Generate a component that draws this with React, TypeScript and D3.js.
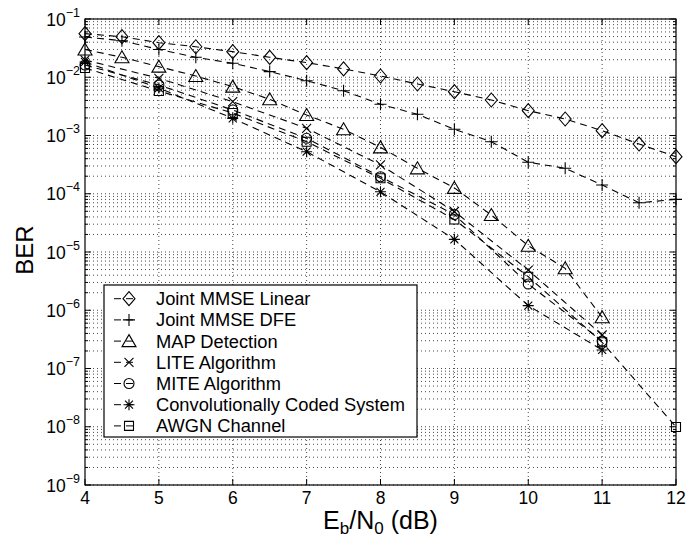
import React from "react";
import * as d3 from "d3";

const W = 699, H = 538;

const ebn0Half = [4, 4.5, 5, 5.5, 6, 6.5, 7, 7.5, 8, 8.5, 9, 9.5, 10, 10.5, 11, 11.5, 12];
const ebn0Int = [4, 5, 6, 7, 8, 9, 10, 11];
const ebn0Int12 = [4, 5, 6, 7, 8, 9, 10, 11, 12];
const ebn0Map = [4, 4.5, 5, 5.5, 6, 6.5, 7, 7.5, 8, 8.5, 9, 9.5, 10, 10.5, 11];

const berLinear = [5.6e-2, 4.97e-2, 3.92e-2, 3.34e-2, 2.75e-2, 2.2e-2, 1.78e-2, 1.39e-2, 1.05e-2, 7.66e-3, 5.65e-3, 4.07e-3, 2.67e-3, 1.92e-3, 1.21e-3, 7.14e-4, 4.33e-4];
const berDfe = [4.9e-2, 4.24e-2, 3.0e-2, 2.2e-2, 1.74e-2, 1.25e-2, 8.73e-3, 5.88e-3, 3.44e-3, 2.31e-3, 1.28e-3, 7.83e-4, 3.47e-4, 2.74e-4, 1.41e-4, 7.0e-5, 8.0e-5];
const berMap = [3.0e-2, 2.2e-2, 1.52e-2, 1.05e-2, 6.9e-3, 4.18e-3, 2.25e-3, 1.28e-3, 6.26e-4, 2.73e-4, 1.26e-4, 4.32e-5, 1.28e-5, 5.25e-6, 7.57e-7];
const berLite = [1.98e-2, 9.6e-3, 3.8e-3, 1.33e-3, 3.12e-4, 4.96e-5, 4.9e-6, 3.76e-7];
const berMite = [1.62e-2, 7.36e-3, 2.74e-3, 8.95e-4, 1.96e-4, 4.4e-5, 2.82e-6, 2.96e-7];
const berConv = [1.83e-2, 6.53e-3, 1.97e-3, 5.27e-4, 1.08e-4, 1.65e-5, 1.2e-6, 2.08e-7];
const berAwgn = [1.44e-2, 5.81e-3, 2.43e-3, 7.83e-4, 1.84e-4, 3.61e-5, 3.77e-6, 2.82e-7, 9.9e-9];

const legendLabels = [
  "Joint MMSE Linear",
  "Joint MMSE DFE",
  "MAP Detection",
  "LITE Algorithm",
  "MITE Algorithm",
  "Convolutionally Coded System",
  "AWGN Channel",
];
const markerTypes = ["diamond", "plus", "triangle", "x", "circle", "star", "square"];

const xTicks = [4, 5, 6, 7, 8, 9, 10, 11, 12];
const yExps = [-9, -8, -7, -6, -5, -4, -3, -2, -1];

const series = [
  { xs: ebn0Half, ys: berLinear },
  { xs: ebn0Half, ys: berDfe },
  { xs: ebn0Map, ys: berMap },
  { xs: ebn0Int, ys: berLite },
  { xs: ebn0Int, ys: berMite },
  { xs: ebn0Int, ys: berConv },
  { xs: ebn0Int12, ys: berAwgn },
];

const FONT = "'Liberation Sans', Arial, Helvetica, sans-serif";

function Marker({ type, cx, cy }: { type: string; cx: number; cy: number }) {
  const s = { fill: "none", stroke: "#000", strokeWidth: 1.1 };
  const t = `translate(${cx},${cy})`;
  switch (type) {
    case "diamond":
      return <path transform={t} d="M0,-7L6,0L0,7L-6,0Z" {...s} />;
    case "plus":
      return <path transform={t} d="M-6,0H6M0,-6V6" {...s} />;
    case "triangle":
      return <path transform={t} d="M0,-6.5L7,5.5L-7,5.5Z" {...s} />;
    case "x":
      return <path transform={t} d="M-4.5,-4.5L4.5,4.5M-4.5,4.5L4.5,-4.5" {...s} />;
    case "circle":
      return <circle cx={cx} cy={cy} r={5} {...s} />;
    case "star":
      return <path transform={t} d="M-5.5,0H5.5M0,-5.5V5.5M-4,-4L4,4M-4,4L4,-4" {...s} />;
    case "square":
      return <path transform={t} d="M-4.5,-4.5H4.5V4.5H-4.5Z" {...s} />;
  }
  return null;
}

export default function App() {
  const x = d3.scaleLinear().domain([4, 12]).range([85, 676]);
  const y = d3.scaleLog().domain([1e-9, 1e-1]).range([485, 19]);
  const line = d3.line<[number, number]>().x((d) => x(d[0])).y((d) => y(d[1]));

  const hGrid: number[] = [];
  for (let e = -9; e <= -2; e++) for (let k = 1; k <= 9; k++) hGrid.push(k * Math.pow(10, e));
  hGrid.push(1e-1);

  const x0 = x(4), x1 = x(12), y0 = y(1e-9), y1 = y(1e-1);
  const legX = 104, legY = 285, legW = 313, legH = 152;
  const rowY = (i: number) => 298.7 + i * 21.2;

  return (
    <svg width={W} height={H} style={{ position: "absolute", left: 0, top: 0, background: "#fff" }} fontFamily={FONT}>
      <rect x={0} y={0} width={W} height={H} fill="#fff" />
      {/* grid */}
      <g stroke="#333" strokeWidth={0.9} strokeDasharray="1,3">
        {hGrid.map((v, i) => (
          <line key={"h" + i} x1={x0} x2={x1} y1={y(v)} y2={y(v)} />
        ))}
        {xTicks.slice(1, -1).map((t) => (
          <line key={"v" + t} x1={x(t)} x2={x(t)} y1={y0} y2={y1} />
        ))}
      </g>
      {/* ticks */}
      <g stroke="#000" strokeWidth={1}>
        {xTicks.map((t) => (
          <g key={"xt" + t}>
            <line x1={x(t)} x2={x(t)} y1={y0} y2={y0 - 6} />
            <line x1={x(t)} x2={x(t)} y1={y1} y2={y1 + 6} />
          </g>
        ))}
        {hGrid.map((v, i) => {
          const major = Math.abs(Math.log10(v) - Math.round(Math.log10(v))) < 1e-9;
          const len = major ? 6 : 3;
          return (
            <g key={"yt" + i}>
              <line x1={x0} x2={x0 + len} y1={y(v)} y2={y(v)} />
              <line x1={x1} x2={x1 - len} y1={y(v)} y2={y(v)} />
            </g>
          );
        })}
      </g>
      {/* axes box */}
      <rect x={x0} y={y1} width={x1 - x0} height={y0 - y1} fill="none" stroke="#000" strokeWidth={1.2} />
      {/* series */}
      {series.map((s, i) => {
        const pts = s.xs.map((xv, j) => [xv, s.ys[j]] as [number, number]);
        return (
          <g key={"s" + i}>
            <path d={line(pts) || ""} fill="none" stroke="#000" strokeWidth={1.1} strokeDasharray="7,5" />
            {pts.map((p, j) => (
              <Marker key={j} type={markerTypes[i]} cx={x(p[0])} cy={y(p[1])} />
            ))}
          </g>
        );
      })}
      {/* tick labels */}
      <g fontSize={17.5} fill="#000">
        {xTicks.map((t) => (
          <text key={"xl" + t} x={x(t)} y={504} textAnchor="middle">
            {t}
          </text>
        ))}
        {yExps.map((e) => (
          <text key={"yl" + e} x={80} y={y(Math.pow(10, e)) + 6.5} textAnchor="end">
            10
            <tspan fontSize={12.5} dy={-9}>
              {"\u2212" + Math.abs(e)}
            </tspan>
          </text>
        ))}
      </g>
      {/* axis titles */}
      <text transform="translate(33,250) rotate(-90)" textAnchor="middle" fontSize={24} fill="#000">
        BER
      </text>
      <text x={x(8)} y={529} textAnchor="middle" fontSize={25} fill="#000">
        E<tspan fontSize={17} dy={5}>b</tspan>
        <tspan dy={-5}>/N</tspan>
        <tspan fontSize={17} dy={5}>0</tspan>
        <tspan dy={-5}> (dB)</tspan>
      </text>
      {/* legend */}
      <rect x={legX} y={legY} width={legW} height={legH} fill="#fff" stroke="#000" strokeWidth={1.2} />
      {legendLabels.map((lab, i) => (
        <g key={"lg" + i}>
          <line x1={114} x2={136} y1={rowY(i)} y2={rowY(i)} stroke="#000" strokeWidth={1} strokeDasharray="7,5" />
          <Marker type={markerTypes[i]} cx={129} cy={rowY(i)} />
          <text x={156} y={rowY(i) + 6.5} fontSize={18.3} fill="#000">
            {lab}
          </text>
        </g>
      ))}
    </svg>
  );
}
